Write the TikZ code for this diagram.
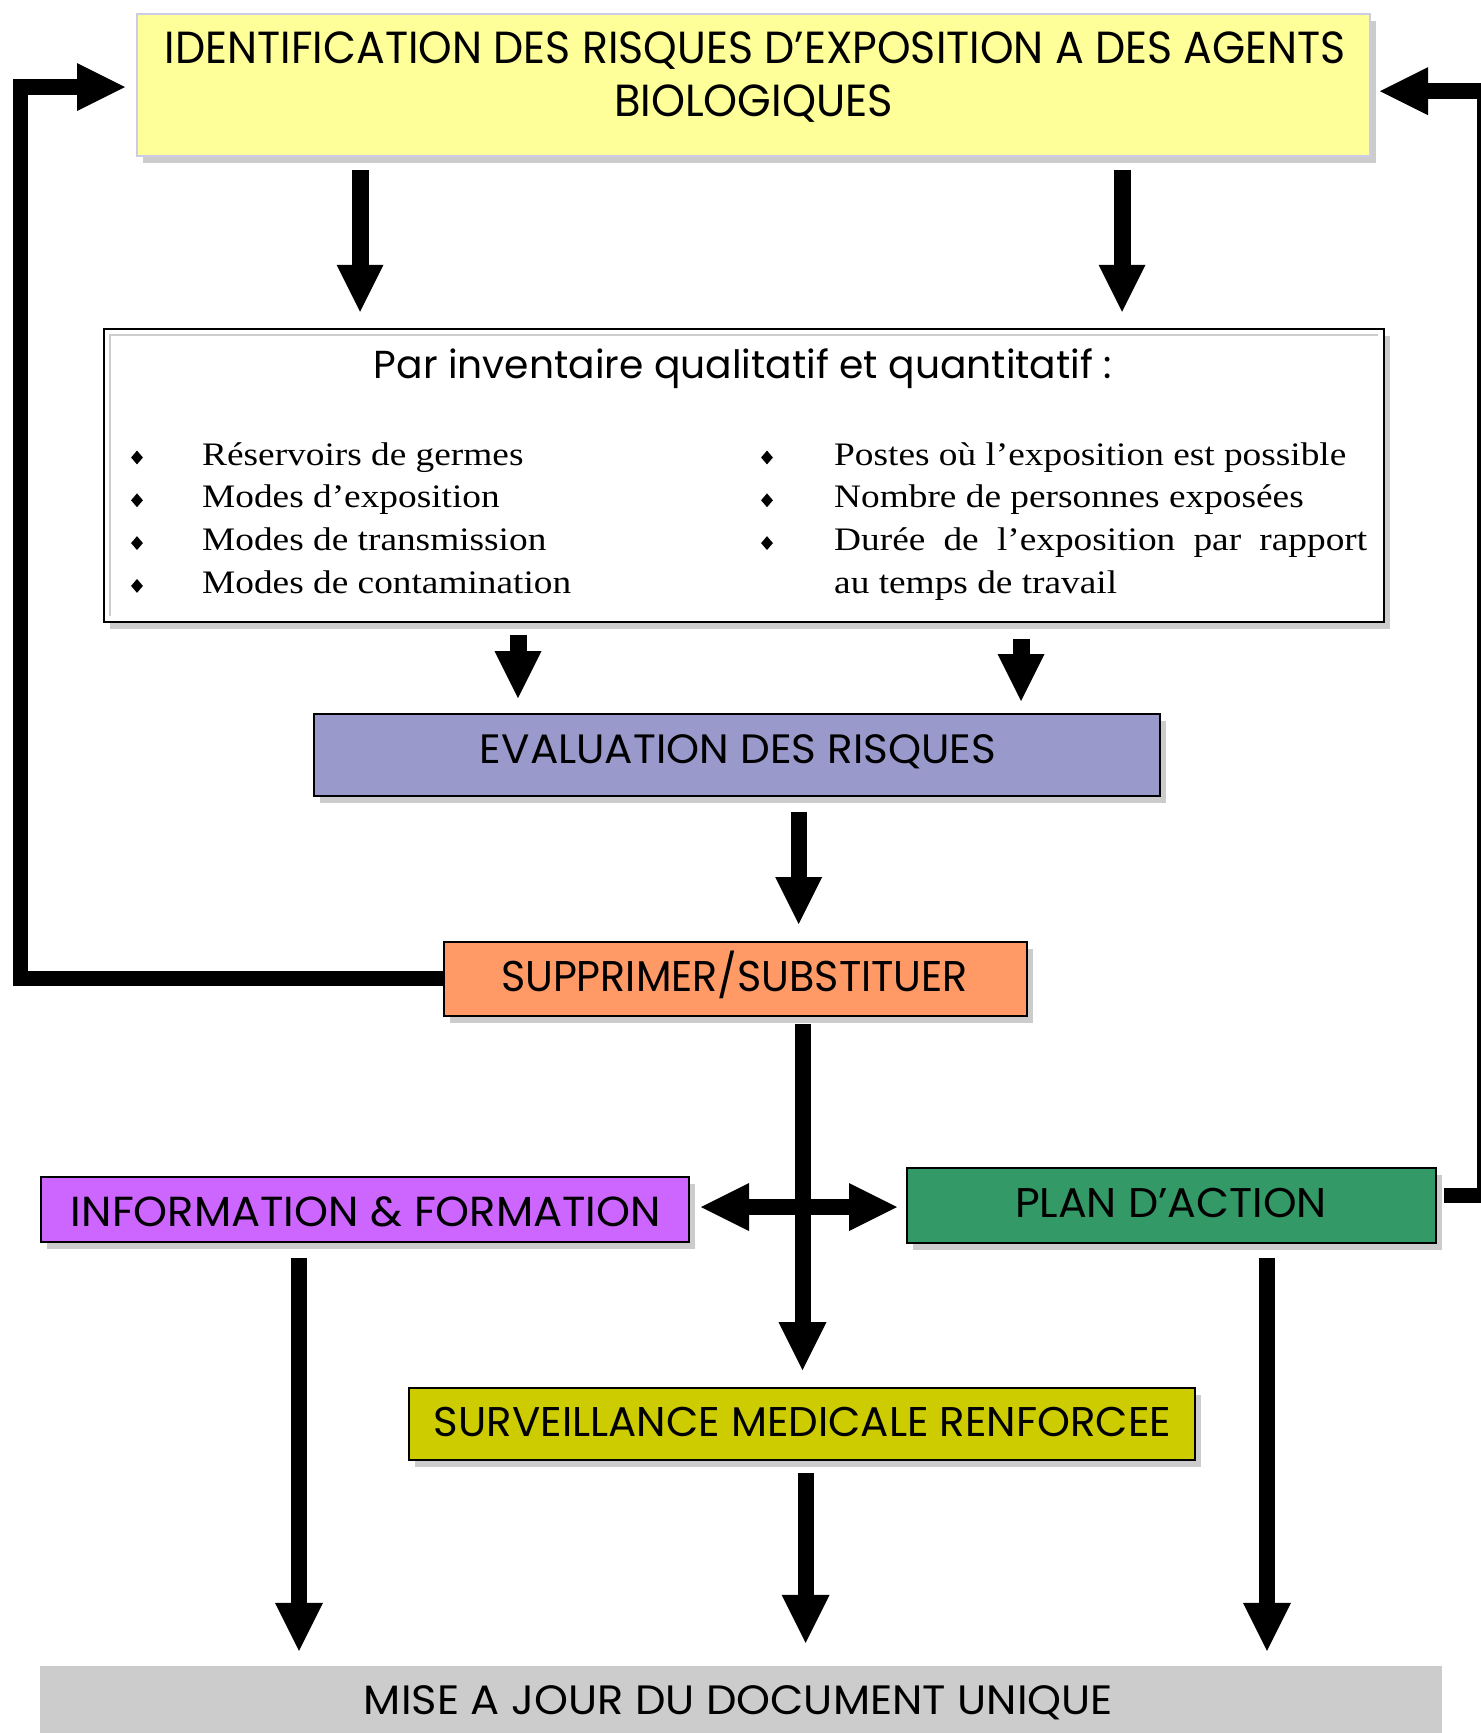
\documentclass[tikz,border=0pt]{standalone}
\usepackage{fontspec}
\usepackage{graphicx}
\setmainfont{Liberation Serif}
\newfontfamily\fut{Poppins}
\usetikzlibrary{arrows.meta,shapes.geometric,shadows}
\definecolor{topyellow}{HTML}{FFFF99}
\definecolor{topborder}{HTML}{CCCCE6}
\definecolor{evalc}{HTML}{9999CC}
\definecolor{suppc}{HTML}{FF9966}
\definecolor{infoc}{HTML}{CC66FF}
\definecolor{planc}{HTML}{339966}
\definecolor{survc}{HTML}{CCCC00}
\definecolor{misec}{HTML}{CCCCCC}
\definecolor{shgray}{HTML}{CCCCCC}
\newcommand{\ftxt}[3]{\resizebox{#1}{\height}{\fontsize{#2}{#2}\selectfont\fut #3}}
\newcommand{\stxt}[1]{\scalebox{1.138}[1]{\fontsize{32.8}{40}\selectfont #1}}
\begin{document}
\begin{tikzpicture}[x=1pt,y=-1pt,
  boxst/.style={draw=black, line width=2pt, inner sep=0pt,
    general shadow={shadow xshift=6pt, shadow yshift=-7pt, fill=shgray}},
  lbl/.style={inner sep=0pt, anchor=base},
  item/.style={inner sep=0pt, anchor=base west},
  bul/.style={diamond, fill=black, inner sep=0pt, minimum width=12pt, minimum height=14pt},
  arr/.style={line width=17pt, line cap=butt, -{Triangle[length=47pt,width=47pt,line width=0pt]}},
  arrb/.style={line width=16pt, line cap=butt, -{Triangle[length=48pt,width=48pt,line width=0pt]}},
  fb/.style={line width=15.5pt, line cap=butt, line join=miter, -{Triangle[length=48pt,width=48pt,line width=0pt]}}
]
\useasboundingbox (0,0) rectangle (1481,1733);
\clip (0,0) rectangle (1481,1733);
\fill[white] (0,0) rectangle (1481,1733);

% boxes
\node[boxst, fill=topyellow, draw=topborder, minimum width=1233pt, minimum height=142pt] (top) at (753.5,85) {};
\node[boxst, fill=white, line width=2.5pt, minimum width=1280pt, minimum height=293pt] (inv) at (744,475.5) {};
\draw[shgray, line width=2pt] ([shift={(7,-7)}]inv.south west) -- ([shift={(7,7)}]inv.north west) -- ([shift={(-7,7)}]inv.north east);
\node[boxst, fill=evalc, minimum width=846pt, minimum height=82pt] (eval) at (737,755) {};
\node[boxst, fill=suppc, minimum width=583pt, minimum height=74pt] (supp) at (735.5,979) {};
\node[boxst, fill=infoc, minimum width=648pt, minimum height=65pt] (info) at (365,1209.5) {};
\node[boxst, fill=planc, minimum width=529pt, minimum height=75pt] (plan) at (1171.5,1205.5) {};
\node[boxst, fill=survc, minimum width=786pt, minimum height=72pt] (surv) at (802,1424) {};
\node[fill=misec, inner sep=0pt, minimum width=1402pt, minimum height=94pt] (mise) at (741,1713) {};

% box texts
\node[lbl] (t1) at (755.5,63.3) {\ftxt{1181pt}{45}{IDENTIFICATION DES RISQUES D’EXPOSITION A DES AGENTS}};
\node[lbl] (t2) at (753.5,116) {\ftxt{279pt}{45}{BIOLOGIQUES}};
\node[lbl] (tpar) at (743,378.3) {\ftxt{738pt}{39}{Par inventaire qualitatif et quantitatif :}};
\node[lbl] (teval) at (738,763) {\ftxt{516pt}{41}{EVALUATION DES RISQUES}};
\node[lbl] (tsupp) at (734.5,991.7) {\ftxt{467pt}{43}{SUPPRIMER/SUBSTITUER}};
\node[lbl] (tinfo) at (366,1226.2) {\ftxt{590pt}{42}{INFORMATION \& FORMATION}};
\node[lbl] (tplan) at (1171,1217.5) {\ftxt{312pt}{41.5}{PLAN D’ACTION}};
\node[lbl] (tsurv) at (802.5,1436.9) {\ftxt{737pt}{41.5}{SURVEILLANCE MEDICALE RENFORCEE}};
\node[lbl] (tmise) at (738.5,1714.1) {\ftxt{749pt}{41}{MISE A JOUR DU DOCUMENT UNIQUE}};

% bullet lists
\node[bul] (b1) at (137,457.5) {};
\node[bul] (b2) at (137,500.3) {};
\node[bul] (b3) at (137,543.1) {};
\node[bul] (b4) at (137,585.9) {};
\node[bul] (b5) at (767,457.5) {};
\node[bul] (b6) at (767,500.3) {};
\node[bul] (b7) at (767,543.1) {};
\node[item] (l1) at (202,465) {\stxt{Réservoirs de germes}};
\node[item] (l2) at (202,507.8) {\stxt{Modes d’exposition}};
\node[item] (l3) at (202,550.6) {\stxt{Modes de transmission}};
\node[item] (l4) at (202,593.4) {\stxt{Modes de contamination}};
\node[item] (r1) at (834,465) {\stxt{Postes où l’exposition est possible}};
\node[item] (r2) at (834,507.8) {\stxt{Nombre de personnes exposées}};
\node[item] (r3) at (834,550.6) {\stxt{\makebox[468.4pt][s]{Durée de l’exposition par rapport}}};
\node[item] (r4) at (834,593.4) {\stxt{au temps de travail}};

% connector start points
\coordinate (s1) at (360,170);
\coordinate (s2) at (1122,170);
\coordinate (s3) at (518,635);
\coordinate (s4) at (1021,639);
\coordinate (s5) at (798.7,812);
\coordinate (s6) at (802.5,1024);
\coordinate (s8) at (299,1258);
\coordinate (s9) at (805.6,1473);
\coordinate (s10) at (1267,1258);
\coordinate (dl) at (701,1207);
\coordinate (dr) at (897,1207);
\coordinate (fl1) at (20.5,978.5);
\coordinate (fl2) at (20.5,87);
\coordinate (fr0) at (1444,1195.5);
\coordinate (fr1) at (1485,1195.5);
\coordinate (fr2) at (1485,91.2);

% connectors
\draw[arr, shorten >=16pt] (s1) -- (s1 |- inv.north);
\draw[arr, shorten >=16pt] (s2) -- (s2 |- inv.north);
\draw[arr, shorten >=15pt] (s3) -- (s3 |- eval.north);
\draw[arr, shorten >=12pt] (s4) -- (s4 |- eval.north);
\draw[arr, line width=16pt, shorten >=17pt] (s5) -- (s5 |- supp.north);
\draw[arrb, shorten >=17pt] (s6) -- (s6 |- surv.north);
\draw[line width=16pt, line cap=butt, {Triangle[length=48pt,width=48pt,line width=0pt]}-{Triangle[length=48pt,width=48pt,line width=0pt]}] (dl) -- (dr);
\draw[arrb, shorten >=15pt] (s8) -- (s8 |- mise.north);
\draw[arrb, shorten >=23pt] (s9) -- (s9 |- mise.north);
\draw[arrb, shorten >=15pt] (s10) -- (s10 |- mise.north);
\draw[fb, shorten >=11pt] (supp.west |- fl1) -- (fl1) -- (fl2) -- (fl2 -| top.west);
\draw[fb, shorten >=9pt] (fr0) -- (fr1) -- (fr2) -- (fr2 -| top.east);
\end{tikzpicture}
\end{document}
